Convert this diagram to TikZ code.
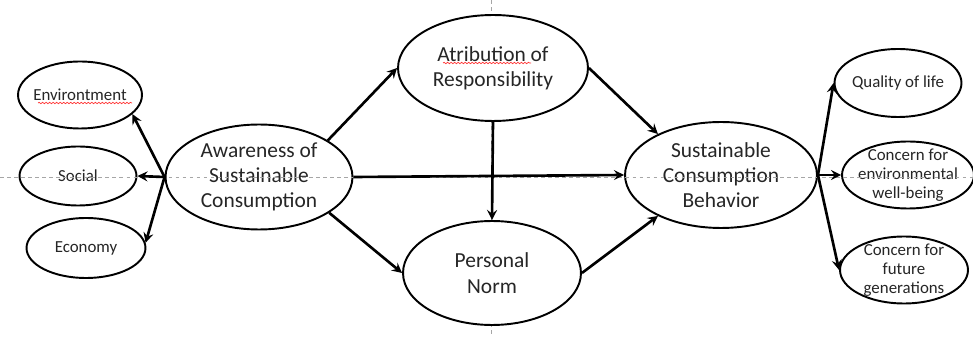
\documentclass[tikz,border=0pt]{standalone}
\usepackage{fontspec}
\setmainfont{Carlito}
\usetikzlibrary{shapes.geometric, arrows, decorations.pathmorphing}
\tikzstyle{construct} = [ellipse, draw=black, line width=1.1pt, fill=white, inner sep=0pt]
\tikzstyle{indicator} = [ellipse, draw=black, line width=1.1pt, fill=white, inner sep=0pt]
\tikzstyle{bigtext} = [font=\fontsize{12.2}{14.4}\selectfont, align=center, text=black!85]
\tikzstyle{smalltext} = [font=\fontsize{9.6}{11}\selectfont, align=center, text=black!85]
\tikzstyle{arrow} = [line width=1.5pt,->,>=stealth]
\tikzstyle{guide} = [gray!70, dash pattern=on 2pt off 2pt, line width=0.4pt]
\tikzstyle{spell} = [red!80, line width=0.4pt, decorate, decoration={snake, amplitude=0.4pt, segment length=2pt}]

\begin{document}
\begin{tikzpicture}[x=0.02cm, y=-0.02cm] % one unit = one pixel, y downwards
\useasboundingbox (0,0) rectangle (973,337);

% vertical guide behind the ellipses
\draw [guide] (491,0) -- (491,337);

% Left side: awareness and its dimensions
\node (aware) [construct, minimum width=3.74cm, minimum height=2.1cm, label={[bigtext]center:Awareness of\\Sustainable\\Consumption}] at (259,177) {};
\node (env) [indicator, minimum width=2.48cm, minimum height=1.34cm, label={[smalltext]center:Environtment}] at (80,95) {};
\node (social) [indicator, minimum width=2.34cm, minimum height=1.18cm, label={[smalltext]center:Social}] at (78,176) {};
\node (economy) [indicator, minimum width=2.38cm, minimum height=1.2cm, label={[smalltext]center:Economy}] at (86,248) {};

% Middle: mediators
\node (attr) [construct, minimum width=3.8cm, minimum height=2.12cm, label={[bigtext]center:Atribution of\\Responsibility}] at (493,68) {};
\node (pnorm) [construct, minimum width=3.56cm, minimum height=2.08cm, label={[bigtext]center:Personal\\Norm}] at (492,273) {};

% Right side: behaviour and its outcomes
\node (scb) [construct, minimum width=3.84cm, minimum height=2.12cm, label={[bigtext]center:Sustainable\\Consumption\\Behavior}] at (721,175) {};
\node (quality) [indicator, minimum width=2.54cm, minimum height=1.36cm, label={[smalltext]center:Quality of life}] at (898,83) {};
\node (envc) [indicator, minimum width=2.64cm, minimum height=1.34cm, label={[smalltext]center:Concern for\\environmental\\well-being}] at (908,175) {};
\node (future) [indicator, minimum width=2.56cm, minimum height=1.34cm, label={[smalltext]center:Concern for\\future\\generations}] at (904,270) {};

% horizontal guide runs over the ellipses
\draw [guide] (0,177) -- (973,177);

% spelling marks
\draw [spell] ([shift={(-42,8)}]env.center) -- ([shift={(52,8)}]env.center);
\draw [spell] ([shift={(-50,-5)}]attr.center) -- ([shift={(38,-5)}]attr.center);

% Arrows
\draw [arrow] (aware.west) -- (env.-20);
\draw [arrow] (aware.west) -- (social.east);
\draw [arrow] (aware.west) -- (economy.5);
\draw [arrow] (aware.28) -- (attr.west);
\draw [arrow] (aware.-27) -- (pnorm.west);
\draw [arrow] (aware.east) -- (scb.west);
\draw [arrow] (attr.south) -- (pnorm.north);
\draw [arrow] (attr.east) -- (scb.147);
\draw [arrow] (pnorm.east) -- (scb.213);
\draw [arrow] (scb.east) -- (quality.west);
\draw [arrow] (scb.east) -- (envc.west);
\draw [arrow] (scb.east) -- (future.west);

\end{tikzpicture}
\end{document}
